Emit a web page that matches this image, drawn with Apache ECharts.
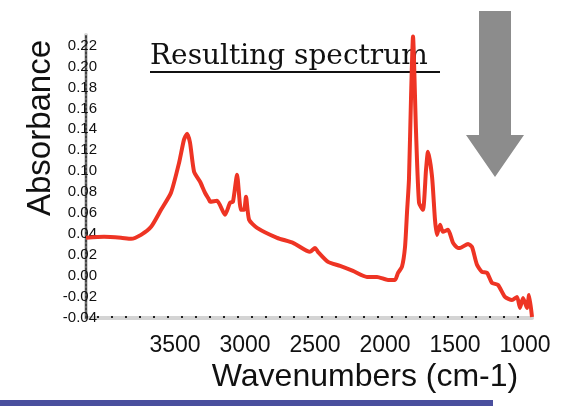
<!DOCTYPE html>
<html>
<head>
<meta charset="utf-8">
<script src="https://cdn.jsdelivr.net/npm/echarts@6/dist/echarts.min.js"></script>
<style>
  html, body { margin: 0; padding: 0; background: #fff; }
  #chart { width: 573px; height: 406px; }
</style>
</head>
<body>
<div id="chart"></div>
<script>
// 光谱数据
var wavenumbers = [4136, 4007, 3886, 3814, 3743, 3671, 3600, 3529, 3471, 3436, 3414, 3393, 3364, 3321,
  3286, 3257, 3250, 3200, 3143, 3107, 3086, 3057, 3029, 3007, 2993, 2971, 2914, 2771, 2657, 2536,
  2500, 2479, 2407, 2321, 2229, 2129, 2057, 1979, 1929, 1907, 1879, 1857, 1843, 1829, 1814, 1800,
  1779, 1757, 1729, 1707, 1693, 1664, 1643, 1629, 1607, 1586, 1550, 1514, 1479, 1464, 1407, 1379,
  1343, 1307, 1271, 1236, 1193, 1143, 1093, 1057, 1036, 1014, 986, 971, 950];
var absorbance = [0.0365, 0.0374, 0.0365, 0.0355, 0.0393, 0.047, 0.0632, 0.0795, 0.1082, 0.1302, 0.1359,
  0.1273, 0.0996, 0.090, 0.0795, 0.0728, 0.0709, 0.0718, 0.0585, 0.0699, 0.0709, 0.0967, 0.0632,
  0.0632, 0.0757, 0.0537, 0.046, 0.0365, 0.0317, 0.0231, 0.0269, 0.0231, 0.0135, 0.0097, 0.0049,
  -0.0008, -0.0008, -0.0037, -0.0037, 0.003, 0.0088, 0.0279, 0.0604, 0.0919, 0.1713, 0.2286,
  0.1397, 0.0699, 0.0632, 0.1015, 0.1187, 0.0948, 0.0537, 0.0393, 0.0489, 0.0422, 0.0441, 0.0317,
  0.0269, 0.0269, 0.0307, 0.0279, 0.0107, 0.004, 0.003, -0.0065, -0.0084, -0.0199, -0.0228,
  -0.0199, -0.0304, -0.0209, -0.0304, -0.018, -0.039];
var xLabels = [3500, 3000, 2500, 2000, 1500, 1000];
var xDots = [4050, 3950, 3850, 3750, 3650, 3550, 3450, 3350, 3250, 3150, 3050, 2950, 2850, 2750,
  2650, 2550, 2450, 2350, 2250, 2150, 2050, 1950, 1850, 1750, 1650, 1550, 1450, 1350, 1250, 1150, 1050];

(function () {
  var myChart = echarts.init(document.getElementById("chart"));
  var points = wavenumbers.map(function (w, i) {
    return [w, absorbance[i]];
  });
  var option = {
    animation: false,
    grid: { left: 86, right: 41, top: 35, bottom: 88 },
    xAxis: {
      type: "value",
      inverse: true,
      min: 950,
      max: 4136,
      splitLine: { show: false },
      axisLine: { onZero: false, lineStyle: { color: "#d4d4d4", width: 4 } },
      axisTick: {
        customValues: xDots,
        inside: true,
        length: 2,
        lineStyle: { color: "#222", width: 2 },
      },
      axisLabel: {
        customValues: xLabels,
        margin: 16,
        fontSize: 23,
        fontFamily: "Liberation Sans",
        color: "#111",
        formatter: function (v) {
          return String(v);
        },
      },
    },
    yAxis: [
      {
        type: "value",
        position: "left",
        min: -0.04,
        max: 0.23,
        interval: 0.02,
        z: 3,
        splitLine: { show: false },
        axisTick: { show: false },
        axisLine: { show: true, onZero: false, lineStyle: { color: "#444", width: 2, type: "dotted" } },
        axisLabel: {
          showMaxLabel: false,
          margin: -11,
          fontSize: 15,
          fontFamily: "Liberation Sans",
          color: "#111",
          formatter: function (v) {
            return v.toFixed(2);
          },
        },
      },
      {
        type: "value",
        position: "left",
        min: -0.04,
        max: 0.23,
        z: 1,
        splitLine: { show: false },
        axisTick: { show: false },
        axisLabel: { show: false },
        axisLine: { show: true, onZero: false, lineStyle: { color: "#d4d4d4", width: 4 } },
      },
    ],
    graphic: [
      {
        type: "text",
        x: 41,
        y: 128,
        rotation: Math.PI / 2,
        style: {
          text: "Absorbance",
          fontSize: 33,
          fontFamily: "Liberation Sans",
          fill: "#111",
          align: "center",
          verticalAlign: "middle",
        },
      },
      {
        type: "text",
        x: 365,
        y: 377,
        style: {
          text: "Wavenumbers (cm-1)",
          fontSize: 32,
          fontFamily: "Liberation Sans",
          fill: "#111",
          align: "center",
          verticalAlign: "middle",
        },
      },
      {
        type: "text",
        x: 150,
        y: 57,
        style: {
          text: "Resulting spectrum",
          fontSize: 28,
          fontFamily: "DejaVu Serif",
          fill: "#111",
          align: "left",
          verticalAlign: "middle",
        },
      },
      {
        type: "line",
        shape: { x1: 150, y1: 72, x2: 440, y2: 72 },
        style: { stroke: "#111", lineWidth: 2 },
      },
      {
        type: "polygon",
        shape: {
          points: [[479, 11], [511, 11], [511, 135], [524, 135], [495, 177], [466, 135], [479, 135]],
        },
        style: { fill: "#8c8c8c" },
      },
      {
        type: "rect",
        shape: { x: 0, y: 400, width: 493, height: 6 },
        style: { fill: "#4a4f9e" },
      },
    ],
    series: [
      {
        type: "line",
        data: points,
        showSymbol: false,
        smooth: 0.2,
        lineStyle: { color: "#ee3424", width: 4 },
        z: 5,
      },
    ],
  };
  myChart.setOption(option);
})();
</script>
</body>
</html>
